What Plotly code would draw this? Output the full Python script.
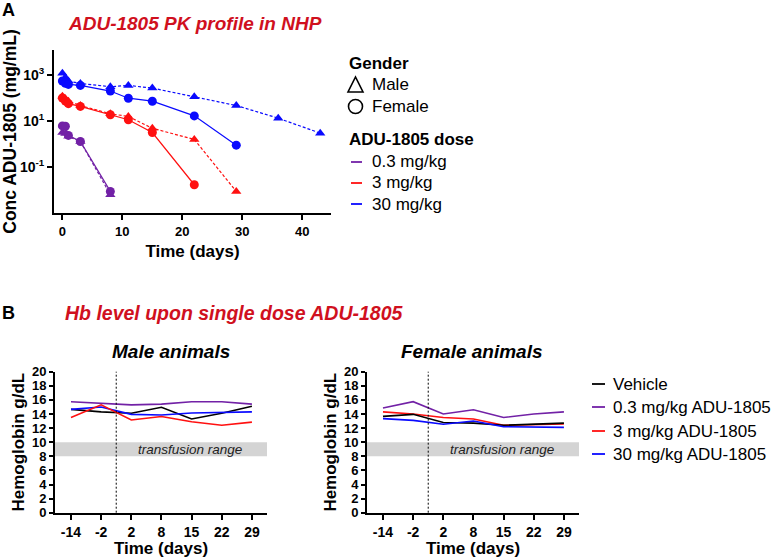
import plotly.graph_objects as go

# ---------------- Data ----------------
# Panel A: PK profile (days, mg/mL)
pk_time_f_03 = [0, 0.5, 1, 3, 8]
pk_conc_f_03 = [6.2, 6.0, 2.4, 1.3, 0.0087]
pk_time_m_03 = [0, 0.5, 1, 3, 8]
pk_conc_m_03 = [3.2, 2.9, 2.2, 1.3, 0.0063]

pk_time_f_3 = [0, 0.5, 1, 3, 8, 11, 15, 22]
pk_conc_f_3 = [102, 75, 58, 44, 19, 11.5, 3.2, 0.017]
pk_time_m_3 = [0, 0.5, 1, 3, 8, 11, 15, 22, 29]
pk_conc_m_3 = [122, 95, 74, 48, 21, 16, 4.9, 1.6, 0.0087]

pk_time_f_30 = [0, 0.5, 1, 3, 8, 11, 15, 22, 29]
pk_conc_f_30 = [560, 450, 400, 360, 205, 100, 74, 17, 0.9]
pk_time_m_30 = [0, 0.5, 1, 3, 8, 11, 15, 22, 29, 36, 43]
pk_conc_m_30 = [1230, 790, 560, 440, 316, 360, 277, 115, 48, 13.5, 3.0]

# Panel B: hemoglobin (g/dL)
hb_days = ["-14", "-2", "2", "8", "15", "22", "29"]
male_vehicle = [14.66, 14.3, 14.1, 14.95, 13.3, 14.1, 15.1]
male_03 = [15.74, 15.5, 15.3, 15.4, 15.74, 15.74, 15.4]
male_3 = [13.5, 15.3, 13.15, 13.65, 12.9, 12.4, 12.85]
male_30 = [14.66, 15.0, 13.95, 13.85, 14.15, 14.2, 14.3]
female_vehicle = [13.66, 13.95, 12.8, 12.7, 12.4, 12.5, 12.7]
female_03 = [14.85, 15.75, 14.0, 14.6, 13.5, 14.0, 14.3]
female_3 = [14.3, 14.0, 13.5, 13.3, 12.4, 12.5, 12.6]
female_30 = [13.35, 13.1, 12.55, 13.0, 12.2, 12.2, 12.1]

pk_ticks = [0.1, 10, 1000]
pk_ticktext = ["10<sup>-1</sup>", "10<sup>1</sup>", "10<sup>3</sup>"]
hb_ticks = list(range(0, 21, 2))

dose_labels = ["0.3 mg/kg", "3 mg/kg", "30 mg/kg"]
hb_labels = ["Vehicle", "0.3 mg/kg ADU-1805", "3 mg/kg ADU-1805", "30 mg/kg ADU-1805"]

# ---------------- Styling ----------------
W, H = 778, 558
FONT = "Liberation Sans, Arial, sans-serif"
PURPLE = "#7221a6"
RED = "#ff1010"
BLUE = "#0a0aff"
BLACK = "#000000"
TITLE_RED = "#d0101e"


def px(x):
    return x / W


def py(y):
    return 1 - y / H


fig = go.Figure()

# PK traces
pk_series = [
    (pk_time_f_03, pk_conc_f_03, PURPLE, "circle", "solid"),
    (pk_time_m_03, pk_conc_m_03, PURPLE, "triangle-up", "3px,2px"),
    (pk_time_m_3, pk_conc_m_3, RED, "triangle-up", "3px,2px"),
    (pk_time_f_3, pk_conc_f_3, RED, "circle", "solid"),
    (pk_time_m_30, pk_conc_m_30, BLUE, "triangle-up", "3px,2px"),
    (pk_time_f_30, pk_conc_f_30, BLUE, "circle", "solid"),
]
for t, c, col, sym, dash in pk_series:
    fig.add_trace(go.Scatter(
        x=t, y=c, mode="lines+markers", xaxis="x", yaxis="y",
        line=dict(color=col, width=1.2, dash=dash),
        marker=dict(symbol=sym, size=9, color=col),
        showlegend=False, hoverinfo="x+y"))

# Hb traces
hb_x = list(range(len(hb_days)))
for vals, col, ax in [
    (male_03, PURPLE, "2"), (male_vehicle, BLACK, "2"), (male_30, BLUE, "2"), (male_3, RED, "2"),
    (female_03, PURPLE, "3"), (female_3, RED, "3"), (female_vehicle, BLACK, "3"), (female_30, BLUE, "3"),
]:
    fig.add_trace(go.Scatter(
        x=hb_x, y=vals, mode="lines", xaxis="x" + ax, yaxis="y" + ax,
        line=dict(color=col, width=1.6), showlegend=False))

axis_common = dict(
    showline=True, linecolor="black", linewidth=2, ticks="outside",
    ticklen=5, tickwidth=1.5, tickcolor="black", showgrid=False, zeroline=False,
    automargin=False,
    tickfont=dict(family=FONT, size=14, color="black", weight="bold"),
    title_font=dict(family=FONT, size=17, color="black", weight="bold"),
)

layout = dict(
    template="none",
    width=W, height=H, margin=dict(l=0, r=0, t=0, b=0, autoexpand=False),
    paper_bgcolor="white", plot_bgcolor="white",
    font=dict(family=FONT, color="black"),
    xaxis=dict(axis_common, domain=[px(54), px(331)], range=[-1.4, 44.8],
               tickvals=[0, 10, 20, 30, 40], anchor="y",
               tickfont=dict(family=FONT, size=13, color="black", weight="bold"),
               title=dict(text="Time (days)", standoff=8)),
    yaxis=dict(axis_common, domain=[py(213), py(50)], type="log", range=[-3, 4.1],
               tickvals=pk_ticks, ticktext=pk_ticktext, anchor="x",
               title=dict(text="Conc ADU-1805 (mg/mL)", standoff=4,
                          font=dict(family=FONT, size=17.5, color="black", weight="bold"))),
    xaxis2=dict(axis_common, domain=[px(55), px(267)], range=[-0.53, 6.5],
                tickvals=hb_x, ticktext=hb_days, anchor="y2",
                title=dict(text="Time (days)", standoff=3)),
    yaxis2=dict(axis_common, domain=[py(512.7), py(371.7)], range=[0, 20],
                tickvals=hb_ticks, anchor="x2", ticklen=4,
                tickfont=dict(family=FONT, size=13, color="black", weight="bold"),
                title=dict(text="Hemoglobin g/dL", standoff=3)),
    xaxis3=dict(axis_common, domain=[px(367), px(579)], range=[-0.53, 6.5],
                tickvals=hb_x, ticktext=hb_days, anchor="y3",
                title=dict(text="Time (days)", standoff=3)),
    yaxis3=dict(axis_common, domain=[py(512.7), py(371.7)], range=[0, 20],
                tickvals=hb_ticks, anchor="x3", ticklen=4,
                tickfont=dict(family=FONT, size=13, color="black", weight="bold"),
                title=dict(text="Hemoglobin g/dL", standoff=3)),
)
fig.update_layout(**layout)

# Transfusion bands and dosing lines
shapes = []
for ax in ["2", "3"]:
    shapes.append(dict(type="rect", xref=f"x{ax} domain", yref=f"y{ax}", x0=0, x1=1, y0=8, y1=10,
                       fillcolor="#d4d4d4", line=dict(width=0), layer="below"))
    shapes.append(dict(type="line", xref=f"x{ax}", yref=f"y{ax} domain", x0=1.5, x1=1.5, y0=0, y1=1,
                       line=dict(color="black", width=1, dash="2px,2px")))


def legend_dash(x0, x1, y, col):
    shapes.append(dict(type="line", xref="paper", yref="paper", x0=px(x0), x1=px(x1),
                       y0=py(y), y1=py(y), line=dict(color=col, width=1.8)))


# Gender legend glyphs
shapes.append(dict(type="path", xref="paper", yref="paper",
                   path=f"M {px(348)} {py(92)} L {px(363)} {py(92)} L {px(355.5)} {py(77)} Z",
                   line=dict(color="black", width=1.6), fillcolor="rgba(0,0,0,0)"))
shapes.append(dict(type="circle", xref="paper", yref="paper",
                   x0=px(348.5), x1=px(362.5), y0=py(113.5), y1=py(99.5),
                   line=dict(color="black", width=1.6), fillcolor="rgba(0,0,0,0)"))

ann = []


def text(x, y, s, size=14, color="black", bold=False, italic=False, xanchor="left"):
    f = dict(family=FONT, size=size, color=color)
    if bold:
        f["weight"] = "bold"
    if italic:
        f["style"] = "italic"
    ann.append(dict(x=px(x), y=py(y), xref="paper", yref="paper", text=s, showarrow=False,
                    xanchor=xanchor, yanchor="middle", font=f))


text(0, 10, "A", size=18, bold=True)
text(195, 23, "ADU-1805 PK profile in NHP", size=19, color=TITLE_RED, bold=True, italic=True, xanchor="center")
text(0, 313, "B", size=18, bold=True)
text(63, 313, "Hb level upon single dose ADU-1805", size=19.5, color=TITLE_RED, bold=True, italic=True)
text(171, 351, "Male animals", size=19, bold=True, italic=True, xanchor="center")
text(472, 351, "Female animals", size=19, bold=True, italic=True, xanchor="center")

for ax in ["2", "3"]:
    ann.append(dict(x=3.95, y=9, xref=f"x{ax}", yref=f"y{ax}", text="transfusion range", showarrow=False,
                    font=dict(family=FONT, size=13.5, color="#222", style="italic")))

# Top legend
text(347, 64, "Gender", size=17, bold=True)
text(370, 85, "Male", size=17)
text(370, 107, "Female", size=17)
text(347, 140, "ADU-1805 dose", size=17, bold=True)
for yy, lab, col in zip([162, 183, 204], dose_labels, [PURPLE, RED, BLUE]):
    legend_dash(351, 362, yy, col)
    text(370, yy, lab, size=17)

# Bottom legend
for yy, lab, col in zip([384, 407, 431, 454], hb_labels, [BLACK, PURPLE, RED, BLUE]):
    legend_dash(592, 605, yy, col)
    text(611, yy, lab, size=17)

fig.update_layout(shapes=shapes, annotations=ann)
fig.write_html("out.html", config={"displayModeBar": False},
               post_script="document.body.style.margin='0';document.body.style.overflow='hidden';")
